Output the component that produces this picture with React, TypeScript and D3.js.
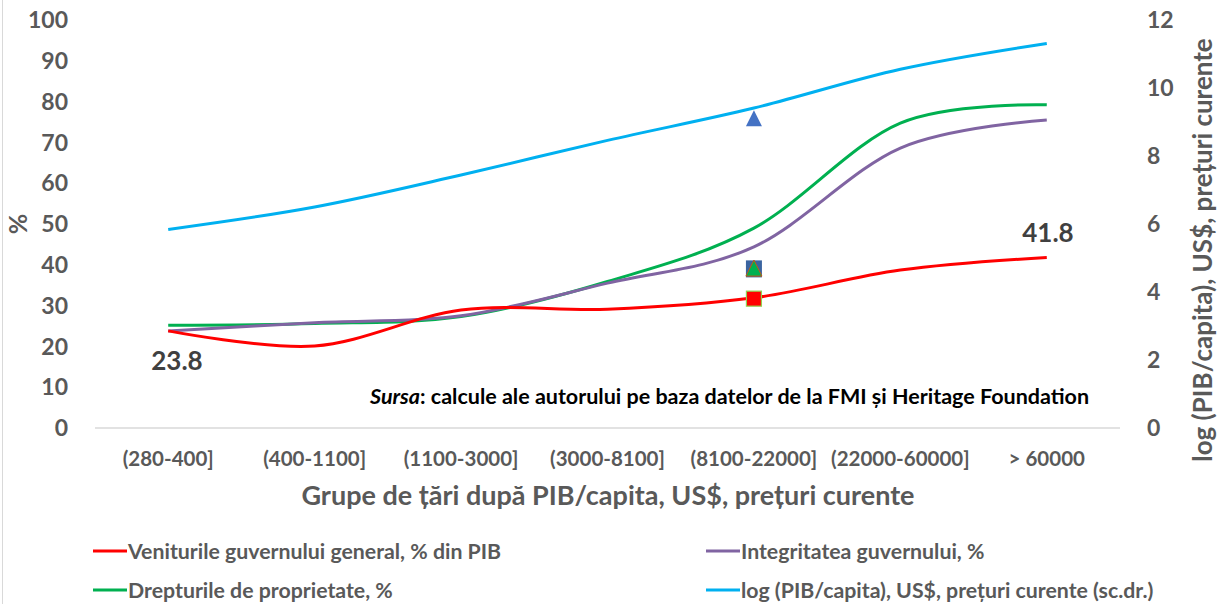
import * as d3 from "d3";

// categories: groups of countries by GDP/capita
const categories = [
  "(280-400]",
  "(400-1100]",
  "(1100-3000]",
  "(3000-8100]",
  "(8100-22000]",
  "(22000-60000]",
  "> 60000",
];

// left axis series (%)
const veniturile = [23.8, 20.1, 28.9, 29.1, 31.9, 38.7, 41.8];
const integritatea = [23.8, 25.8, 27.5, 35.5, 44.4, 68.6, 75.5];
const drepturile = [25.2, 25.6, 27.3, 35.9, 49.0, 74.7, 79.2];
// right axis series (log GDP/capita)
const logPib = [5.84, 6.5, 7.44, 8.46, 9.41, 10.55, 11.31];

// lone markers at (8100-22000]
const markerCat = "(8100-22000]";
const markerBlueTriangle = 75.7;
const markerBlueSquare = 39;
const markerGreenTriangle = 39;
const markerRedSquare = 31.7;

const leftTicks = [0, 10, 20, 30, 40, 50, 60, 70, 80, 90, 100];
const rightTicks = [0, 2, 4, 6, 8, 10, 12];

const legendItems = [
  { label: "Veniturile guvernului general, % din PIB", color: "#FF0000" },
  { label: "Integritatea guvernului, %", color: "#8064A2" },
  { label: "Drepturile de proprietate, %", color: "#00B050" },
  { label: "log (PIB/capita), US$, prețuri curente (sc.dr.)", color: "#00B0F0" },
];

const W = 1217;
const H = 604;
const FONT = "Lato, 'Open Sans', sans-serif";
const GREY = "#595959";

export default function App() {
  const x = d3.scaleBand().domain(categories).range([95, 1120]);
  const cx = (c: string) => (x(c) as number) + x.bandwidth() / 2;
  const yL = d3.scaleLinear().domain([0, 100]).range([428, 20]);
  const yR = d3.scaleLinear().domain([0, 12]).range([428, 20]);

  const lineL = d3
    .line<number>()
    .x((_d, i) => cx(categories[i]))
    .y((d) => yL(d))
    .curve(d3.curveCardinal.tension(0));
  const lineR = d3
    .line<number>()
    .x((_d, i) => cx(categories[i]))
    .y((d) => yR(d))
    .curve(d3.curveCardinal.tension(0));

  const mx = cx(markerCat);
  const tri = (px: number, py: number, s: number) =>
    `M${px},${py - s * 0.55}L${px + s / 2},${py + s * 0.45}L${px - s / 2},${py + s * 0.45}Z`;

  return (
    <div style={{ position: "absolute", left: 0, top: 0 }}>
      <svg width={W} height={H} style={{ display: "block", fontFamily: FONT }}>
        <rect x={0} y={0} width={W} height={H} fill="#fff" />
        <line x1={2.5} x2={2.5} y1={0} y2={H} stroke="#D9D9D9" />

        {/* x axis line */}
        <line x1={95} x2={1120} y1={yL(0)} y2={yL(0)} stroke="#D9D9D9" strokeWidth={1.3} />

        {/* left ticks */}
        {leftTicks.map((t) => (
          <text
            key={"l" + t}
            x={68}
            y={yL(t)}
            dy="0.36em"
            textAnchor="end"
            fontSize={23}
            fontWeight="bold"
            fill={GREY}
          >
            {t}
          </text>
        ))}
        {/* right ticks */}
        {rightTicks.map((t) => (
          <text
            key={"r" + t}
            x={1147}
            y={yR(t)}
            dy="0.36em"
            textAnchor="start"
            fontSize={23}
            fontWeight="bold"
            fill={GREY}
          >
            {t}
          </text>
        ))}

        {/* axis titles */}
        <text
          transform={`translate(27,${yL(50)}) rotate(-90)`}
          textAnchor="middle"
          fontSize={25}
          fontWeight="bold"
          fill={GREY}
        >
          %
        </text>
        <text
          transform={`translate(1212,250) rotate(-90)`}
          textAnchor="middle"
          fontSize={26}
          fontWeight="bold"
          fill={GREY}
        >
          log (PIB/capita), US$, prețuri curente
        </text>

        {/* category labels */}
        {categories.map((c) => (
          <text
            key={c}
            x={cx(c)}
            y={466}
            textAnchor="middle"
            fontSize={20.5}
            fontWeight="bold"
            fill={GREY}
          >
            {c}
          </text>
        ))}
        <text x={608} y={505} textAnchor="middle" fontSize={27} fontWeight="bold" fill={GREY}>
          Grupe de țări după PIB/capita, US$, prețuri curente
        </text>

        {/* series */}
        <path d={lineR(logPib) || ""} fill="none" stroke="#00B0F0" strokeWidth={3} />
        <path d={lineL(drepturile) || ""} fill="none" stroke="#00B050" strokeWidth={3} />
        <path d={lineL(integritatea) || ""} fill="none" stroke="#8064A2" strokeWidth={3} />
        <path d={lineL(veniturile) || ""} fill="none" stroke="#FF0000" strokeWidth={3} />

        {/* markers */}
        <path d={tri(mx, yL(markerBlueTriangle), 16)} fill="#4472C4" />
        <rect
          x={mx - 8}
          y={yL(markerBlueSquare) - 8.5}
          width={16}
          height={17}
          fill="#3A64A0"
        />
        <path
          d={tri(mx, yL(markerGreenTriangle), 16)}
          fill="#00B050"
          stroke="#C55A11"
          strokeWidth={1}
        />
        <rect
          x={mx - 7.5}
          y={yL(markerRedSquare) - 7.5}
          width={15}
          height={15}
          fill="#FF0000"
          stroke="#92D050"
          strokeWidth={1.2}
        />

        {/* data labels */}
        <text x={177} y={370} textAnchor="middle" fontSize={26} fontWeight="bold" fill="#404040">
          {veniturile[0]}
        </text>
        <text x={1048} y={242} textAnchor="middle" fontSize={26} fontWeight="bold" fill="#404040">
          {veniturile[veniturile.length - 1]}
        </text>

        {/* source */}
        <text x={370} y={404} fontSize={21.5} fontWeight="bold" fill="#000">
          <tspan fontStyle="italic">Sursa</tspan>: calcule ale autorului pe baza datelor de la FMI și
          Heritage Foundation
        </text>

        {/* legend */}
        {legendItems.map((it, i) => {
          const lx = i % 2 === 0 ? 93 : 706;
          const ly = i < 2 ? 551 : 590;
          return (
            <g key={it.label}>
              <line x1={lx} x2={lx + 34} y1={ly} y2={ly} stroke={it.color} strokeWidth={3} />
              <text x={lx + 35} y={ly} dy="0.36em" fontSize={21.3} fontWeight="bold" fill={GREY}>
                {it.label}
              </text>
            </g>
          );
        })}
      </svg>
    </div>
  );
}
